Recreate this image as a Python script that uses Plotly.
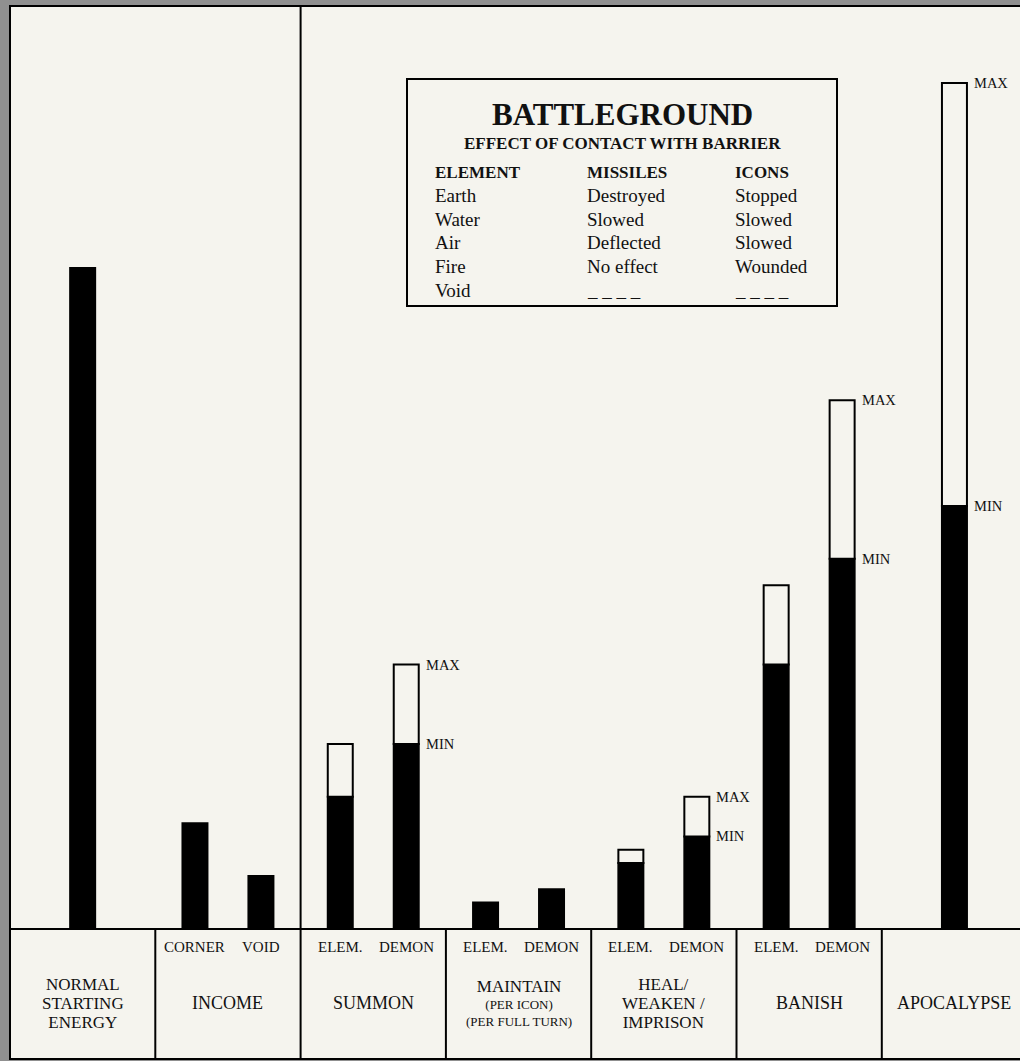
import plotly.graph_objects as go

# ---------------- data ----------------
group_lines = [
    ["NORMAL", "STARTING", "ENERGY"],
    ["INCOME"],
    ["SUMMON"],
    ["MAINTAIN", "(PER ICON)", "(PER FULL TURN)"],
    ["HEAL/", "WEAKEN /", "IMPRISON"],
    ["BANISH"],
    ["APOCALYPSE"],
]
sub_labels = [[""], ["CORNER", "VOID"], ["ELEM.", "DEMON"], ["ELEM.", "DEMON"],
              ["ELEM.", "DEMON"], ["ELEM.", "DEMON"], [""]]
min_values = [[100], [16, 8], [20, 28], [4, 6], [10, 14], [40, 56], [64]]
max_values = [[None], [None, None], [28, 40], [None, None], [12, 20], [52, 80], [128]]

table_title = "BATTLEGROUND"
table_subtitle = "EFFECT OF CONTACT WITH BARRIER"
table_headers = ["ELEMENT", "MISSILES", "ICONS"]
elements = ["Earth", "Water", "Air", "Fire", "Void"]
missiles = ["Destroyed", "Slowed", "Deflected", "No effect", "_ _ _ _"]
icons = ["Stopped", "Slowed", "Slowed", "Wounded", "_ _ _ _"]

# ---------------- layout constants ----------------
W, H = 1020, 1061
LEFT, TOP, BOTTOM, BASE = 10, 6, 1059, 929
CELL, UNIT = 145.3, 6.61
BAR_OFF, BAR_W = 0.227, 0.172
FONT = "Liberation Serif"
INK = "#111111"
PAPER = "#f5f4ee"
GRAY = "#909090"

xr = [-0.5, -0.5 + (W - LEFT) / CELL]
yr = [-(BOTTOM - BASE) / UNIT, (BASE - TOP) / UNIT]


def X(p):
    return (p - LEFT) / CELL - 0.5


def Y(q):
    return (BASE - q) / UNIT


# ---------------- bars ----------------
bx, by, rx, rbase, rh = [], [], [], [], []
labels_pos = []
sub_pos = []
for i, (mins, maxs) in enumerate(zip(min_values, max_values)):
    n = len(mins)
    offs = [0.0] if n == 1 else [-BAR_OFF, BAR_OFF]
    last_range = max([j for j in range(n) if maxs[j] is not None], default=None)
    for j in range(n):
        x = i + offs[j]
        bx.append(x)
        by.append(mins[j])
        sub_pos.append((x, sub_labels[i][j]))
        if maxs[j] is not None:
            rx.append(x)
            rbase.append(mins[j])
            rh.append(maxs[j] - mins[j])
            if j == last_range:
                labels_pos.append((x, maxs[j], "MAX"))
                labels_pos.append((x, mins[j], "MIN"))

fig = go.Figure()
fig.add_trace(go.Bar(x=bx, y=by, width=BAR_W, marker=dict(color="#000000",
                     line=dict(color="#000000", width=2)), hoverinfo="skip"))
fig.add_trace(go.Bar(x=rx, y=rh, base=rbase, width=BAR_W, marker=dict(color=PAPER,
                     line=dict(color="#000000", width=2)), hoverinfo="skip"))

ann = []
for x, v, t in labels_pos:
    ann.append(dict(x=x + BAR_W / 2, y=v, text=t, xanchor="left", yanchor="middle",
                    xshift=5, showarrow=False, font=dict(family=FONT, size=14.5, color=INK)))

for x, t in sub_pos:
    if t:
        ann.append(dict(x=x, y=Y(947), text=t, xanchor="center", yanchor="middle",
                        showarrow=False, font=dict(family=FONT, size=15, color=INK)))


def span(t, s):
    return '<span style="font-size:%dpx">%s</span>' % (s, t)


for i, lines in enumerate(group_lines):
    if len(lines) == 1:
        text, base_size = span(lines[0], 18), 18
    elif lines[1].startswith("("):
        text = "<br>".join([span(lines[0], 17)] + [span(t, 13) for t in lines[1:]])
        base_size = 13
    else:
        text = "<br>".join(span(t, 17) for t in lines)
        base_size = 14.6
    ann.append(dict(x=i, y=Y(1003), text=text, xanchor="center", yanchor="middle",
                    showarrow=False, font=dict(family=FONT, size=base_size, color=INK)))

# table box
BOX = (407, 79, 837, 306)
ann.append(dict(x=X(622), y=Y(114), text="<b>" + table_title + "</b>", showarrow=False,
                xanchor="center", yanchor="middle", font=dict(family=FONT, size=31, color=INK)))
ann.append(dict(x=X(622), y=Y(143), text="<b>" + table_subtitle + "</b>", showarrow=False,
                xanchor="center", yanchor="middle", font=dict(family=FONT, size=17, color=INK)))
col_x = [433, 585, 733]
for cx, h in zip(col_x, table_headers):
    ann.append(dict(x=X(cx), y=Y(172), text="<b>" + h + "</b>", showarrow=False,
                    xanchor="left", yanchor="middle", font=dict(family=FONT, size=17, color=INK)))
row_y = [195, 219, 242, 266, 290]
for q, e, m, c in zip(row_y, elements, missiles, icons):
    for cx, t in zip(col_x, [e, m, c]):
        ann.append(dict(x=X(cx), y=Y(q), text=t, showarrow=False, xanchor="left",
                        yanchor="middle", font=dict(family=FONT, size=19, color=INK)))

LW = 2
shapes = [
    dict(type="rect", xref="paper", yref="paper", x0=0, x1=1.05, y0=0, y1=1,
         line=dict(color="#000", width=LW)),
    dict(type="line", xref="paper", yref="y", x0=0, x1=1.05, y0=0, y1=0,
         line=dict(color="#000", width=LW)),
    dict(type="line", xref="x", yref="paper", x0=1.5, x1=1.5, y0=0, y1=1,
         line=dict(color="#000", width=LW)),
    dict(type="rect", xref="x", yref="y", x0=X(BOX[0]), x1=X(BOX[2]), y0=Y(BOX[3]), y1=Y(BOX[1]),
         line=dict(color="#000", width=LW)),
]
for k in [0.5, 2.5, 3.5, 4.5, 5.5]:
    shapes.append(dict(type="line", xref="x", yref="y", x0=k, x1=k, y0=yr[0], y1=0,
                       line=dict(color="#000", width=LW)))

fig.update_layout(
    width=W, height=H,
    margin=dict(l=LEFT, r=0, t=TOP, b=H - BOTTOM, pad=0),
    paper_bgcolor=GRAY, plot_bgcolor=PAPER,
    barmode="overlay", showlegend=False,
    xaxis=dict(range=xr, visible=False, fixedrange=True),
    yaxis=dict(range=yr, visible=False, fixedrange=True),
    annotations=ann, shapes=shapes,
)
fig.write_html("out.html", config={"displayModeBar": False},
               post_script="document.body.style.margin='0';document.body.style.background='%s';" % GRAY)
